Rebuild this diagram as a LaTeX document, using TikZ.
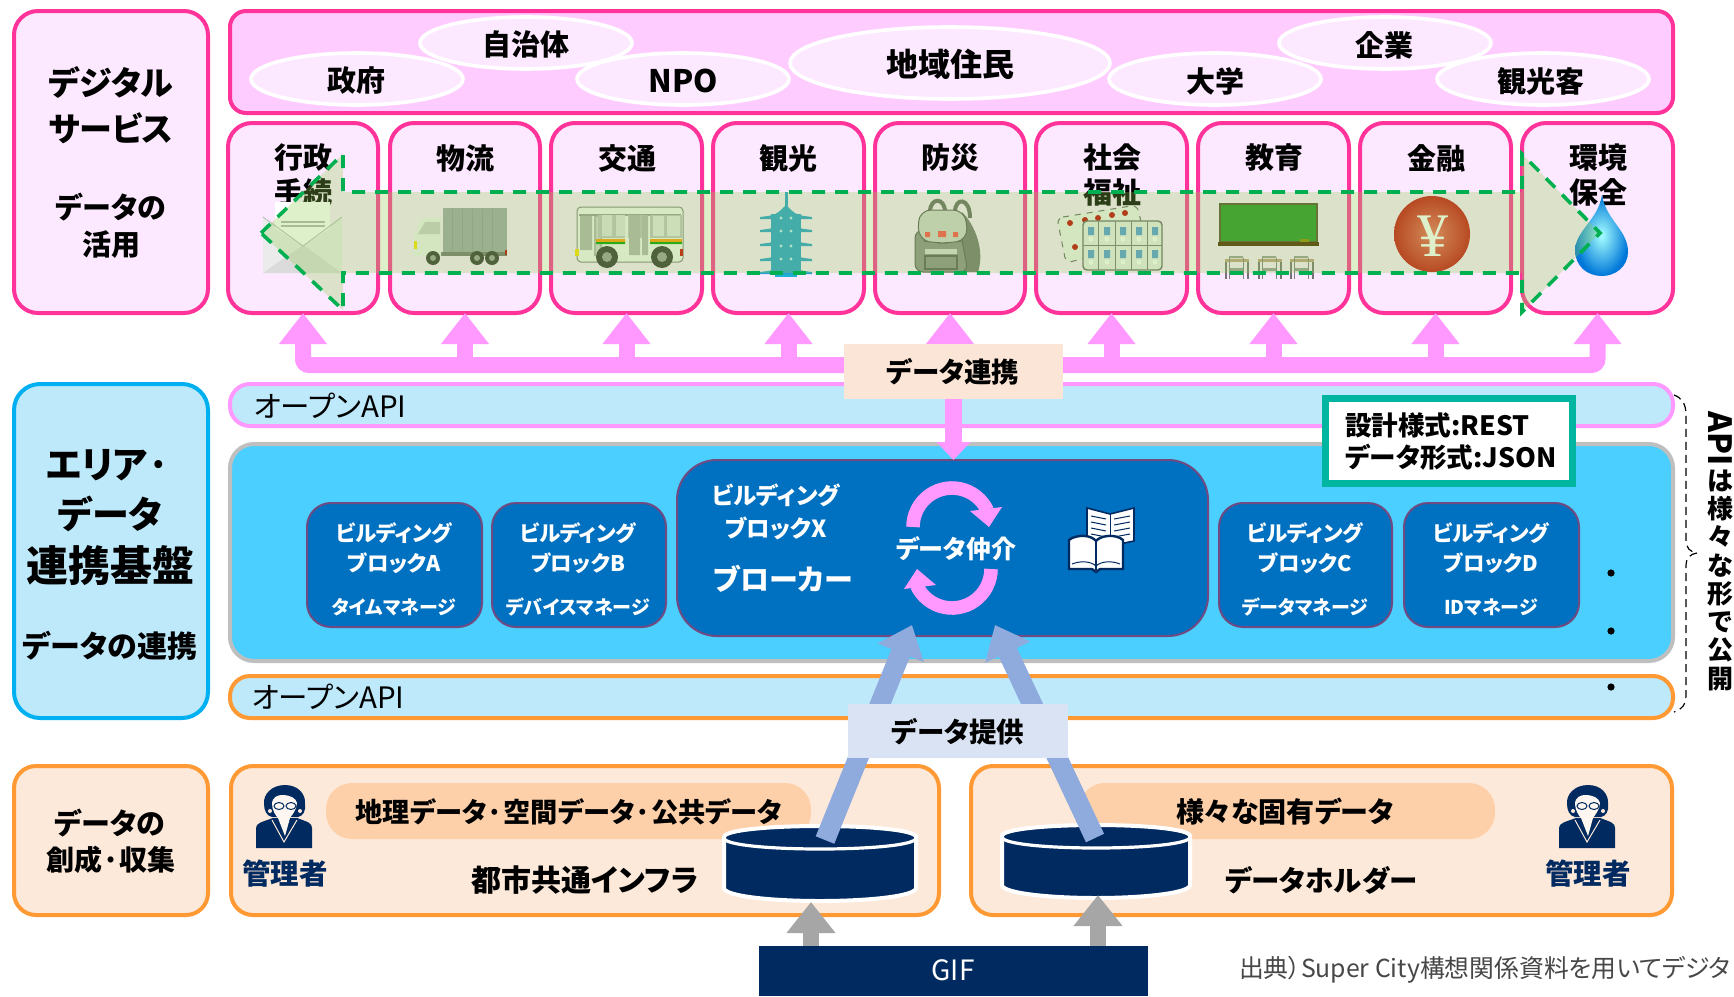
\documentclass[tikz,border=0pt]{standalone}
\usepackage{fontspec}
\setmainfont{Noto Sans CJK JP}[RawFeature=+palt]
\newfontfamily\yenfont{Liberation Serif}
\usetikzlibrary{arrows.meta,shapes.geometric}
\definecolor{pinkline}{HTML}{FF3399}
\definecolor{pinklight}{HTML}{FDE9FF}
\definecolor{pinkband}{HTML}{FFCCFF}
\definecolor{pinkarrow}{HTML}{FF99FF}
\definecolor{skybar}{HTML}{BDE9FA}
\definecolor{skyline}{HTML}{00B0F0}
\definecolor{skymain}{HTML}{4BCFFF}
\definecolor{blockfill}{HTML}{0070C0}
\definecolor{blockline}{HTML}{704A80}
\definecolor{orangeline}{HTML}{FF9933}
\definecolor{orangefill}{HTML}{FDE9D9}
\definecolor{orangepill}{HTML}{FDD0AA}
\definecolor{navy}{HTML}{002A60}
\definecolor{bluearrow}{HTML}{8FAADC}
\definecolor{bluebox}{HTML}{DAE3F3}
\definecolor{peach}{HTML}{FBE5D6}
\definecolor{teal}{HTML}{00B6A0}
\definecolor{graya}{HTML}{A6A6A6}
\definecolor{overlayg}{HTML}{92D050}
\definecolor{dashg}{HTML}{00B050}
\definecolor{pagodac}{HTML}{249ED0}
\definecolor{truckc}{HTML}{A0A3AB}
\tikzset{
  x=0.5pt,y=-0.5pt,
  base/.style={inner sep=0pt,outer sep=0pt,rectangle},
  digibox/.style={base,draw=pinkline,line width=2pt,fill=pinklight,rounded corners=12pt},
  bandbox/.style={base,draw=pinkline,line width=2pt,fill=pinkband,rounded corners=8pt},
  sector/.style={base,draw=pinkline,line width=2pt,fill=pinklight,rounded corners=12pt},
  people/.style={ellipse,draw=white,line width=1.8pt,fill=pinklight,inner sep=0pt,outer sep=0pt},
  apitop/.style={base,draw=pinkarrow,line width=2pt,fill=skybar,rounded corners=10pt},
  apibot/.style={base,draw=orangeline,line width=2pt,fill=skybar,rounded corners=10pt},
  areabox/.style={base,draw=skyline,line width=2pt,fill=skybar,rounded corners=13pt},
  mainbox/.style={base,draw=black!25,line width=2pt,fill=skymain,rounded corners=12pt},
  blockbox/.style={base,draw=blockline,line width=1pt,fill=blockfill,rounded corners=12pt},
  orangebox/.style={base,draw=orangeline,line width=2pt,fill=orangefill,rounded corners=11pt},
  pillbox/.style={base,fill=orangepill,rounded corners=12pt},
  txt/.style={inner sep=0pt,outer sep=0pt,align=center},
  pinkarr/.style={draw=pinkarrow,line width=8pt,-{Triangle[length=15.5pt,width=23pt]}},
  bluearr/.style={draw=bluearrow,line width=10pt,-{Triangle[length=15pt,width=24pt]}},
  grayarr/.style={draw=graya,line width=8pt,-{Triangle[length=15.5pt,width=23.5pt]}},
}
\newcommand\bx[6]{\node[#6,minimum width={(#4-#2-2)*0.5pt},minimum height={(#5-#3-2)*0.5pt}] (#1) at ({(#2+#4)/2},{(#3+#5)/2}) {};}
\newcommand\fb[6]{\node[#6,minimum width={(#4-#2)*0.5pt},minimum height={(#5-#3)*0.5pt}] (#1) at ({(#2+#4)/2},{(#3+#5)/2}) {};}
\newcommand\tx[6][1.15]{\node[txt,text=#5,font={\fontsize{\fpeval{#4/2}}{\fpeval{#4/2*#1}}\selectfont\bfseries}] (#2) at (#3) {#6};}
\newcommand\person[1]{%
  \begin{scope}[shift={(#1)}]
    \fill[navy] (-28,62) -- (-28,42) .. controls (-28,37) and (-22,36) .. (-11,32) -- (13,32) .. controls (24,36) and (28,37) .. (28,42) -- (28,62) -- cycle;
    \fill[navy] (1,-1) .. controls (-12,-1) and (-21,8) .. (-20,18) .. controls (-20,25) and (-17,30) .. (-12,31) -- (14,31) .. controls (19,30) and (22,25) .. (21,18) .. controls (22,8) and (14,-1) .. (1,-1) -- cycle;
    \fill[orangefill!40!white] (-12,18) .. controls (-12,11) and (-6,9) .. (-2,9) .. controls (6,9) and (12,12) .. (13,17) .. controls (13,24) and (7,30) .. (6,32) -- (1,50) -- (-6,32) .. controls (-8,30) and (-12,24) .. (-12,18) -- cycle;
    \draw[navy,line width=.5pt] (-5,20) ellipse [x radius=5,y radius=3.5] (7,20) ellipse [x radius=5,y radius=3.5];
    \fill[orangefill] (-14,25) circle [radius=2] (16,25) circle [radius=2];
    \draw[orangefill,line width=.5pt] (-12,34) -- (0,56) -- (13,34);
  \end{scope}}
\begin{document}
\begin{tikzpicture}
\useasboundingbox (0,0) rectangle (1734,996);
\fill[white] (0,0) rectangle (1734,996);
% top layer
\bx{digi}{13}{10}{209}{314}{digibox}
\tx[1.38]{digiT}{111,105}{33}{black}{デジタル\\サービス}
\tx[1.27]{digiS}{111,226}{29}{black}{データの\\活用}
\bx{band}{229}{10}{1674}{114}{bandbox}
\node[people,minimum width=106pt,minimum height=26pt] (e1) at (357,79) {};
\node[people,minimum width=106pt,minimum height=26pt] (e2) at (526,43) {};
\node[people,minimum width=106pt,minimum height=26pt] (e3) at (683,79) {};
\node[people,minimum width=160pt,minimum height=36pt] (e4) at (950,63) {};
\node[people,minimum width=106pt,minimum height=26pt] (e5) at (1215,79) {};
\node[people,minimum width=106pt,minimum height=26pt] (e6) at (1385,43) {};
\node[people,minimum width=106pt,minimum height=26pt] (e7) at (1543,79) {};
\tx{t1}{356,81}{29}{black}{政府}
\tx{t2}{526,44}{29}{black}{自治体}
\tx{t3}{683,81}{31}{black}{NPO}
\tx{t4}{950,64}{32}{black}{地域住民}
\tx{t5}{1215,81}{29}{black}{大学}
\tx{t6}{1384,45}{29}{black}{企業}
\tx{t7}{1541,81}{29}{black}{観光客}
% sectors
\bx{s1}{227}{122}{379}{314}{sector}
\bx{s2}{389}{122}{541}{314}{sector}
\bx{s3}{550}{122}{703}{314}{sector}
\bx{s4}{712}{122}{865}{314}{sector}
\bx{s5}{874}{122}{1026}{314}{sector}
\bx{s6}{1035}{122}{1188}{314}{sector}
\bx{s7}{1197}{122}{1350}{314}{sector}
\bx{s8}{1359}{122}{1512}{314}{sector}
\bx{s9}{1521}{122}{1674}{314}{sector}
\tx[1.2]{l1}{303,175}{29}{black}{行政\\手続}
\tx{l2}{465,158}{29}{black}{物流}
\tx{l3}{627,158}{29}{black}{交通}
\tx{l4}{788,158}{29}{black}{観光}
\tx{l5}{950,158}{29}{black}{防災}
\tx[1.2]{l6}{1112,175}{29}{black}{社会\\福祉}
\tx{l7}{1274,158}{29}{black}{教育}
\tx{l8}{1436,158}{29}{black}{金融}
\tx[1.2]{l9}{1598,175}{29}{black}{環境\\保全}
% icons
% envelope
\fill[white] (275,202) rectangle (330,240);
\fill[black!8] (263,217) -- (303,243) -- (342,217) -- (342,273) -- (263,273) -- cycle;
\fill[black!14] (263,273) -- (303,245) -- (342,273) -- cycle;
\fill[white] (275,202) -- (330,202) -- (330,228) -- (303,246) -- (275,228) -- cycle;
\draw[black!30,line width=.7pt] (281,222) -- (325,222) (281,226) -- (325,226);
\draw[black!25,line width=.5pt] (263,217) -- (303,246) -- (342,217);
% truck
\fill[black!55] (414,252) rectangle (507,256);
\fill[truckc] (443,208) rectangle (507,252);
\foreach \q in {452,462,472,482,492} \draw[black!42,line width=.5pt] (\q,209) -- (\q,251);
\fill[black!6] (421,218) -- (441,218) -- (441,256) -- (414,256) -- (414,238) -- cycle;
\fill[black!20] (425,222) -- (440,222) -- (440,234) -- (418,234) -- cycle;
\fill[yellow!80!orange] (414,241) rectangle (417,249);
\fill[red!70!black] (505,250) rectangle (507,255);
\foreach \q in {433,477,492} {\fill[black!80] (\q,258) circle [radius=7]; \fill[black!40] (\q,258) circle [radius=3];}
% bus
\fill[black!4,draw=black!50,line width=.5pt,rounded corners=2pt] (577,207) rectangle (683,262);
\fill[black!40] (579,214) rectangle (681,216);
\fill[black!30] (580,216) rectangle (592,250) (594,216) rectangle (602,256);
\fill[black!18] (596,217) rectangle (600,255);
\fill[black!25] (598,215) rectangle (625,238) (628,215) rectangle (645,238);
\fill[black!12] (602,215) rectangle (612,236) (616,215) rectangle (625,236);
\fill[black!30] (629,215) rectangle (640,255) (642,215) rectangle (648,255);
\fill[black!25] (650,215) rectangle (682,238);
\fill[black!10] (653,216) rectangle (664,236) (667,216) rectangle (680,236);
\fill[orange!80!yellow] (596,239) rectangle (625,242) (650,239) rectangle (682,242);
\fill[green!60!black] (596,242) rectangle (625,244) (650,242) rectangle (682,244);
\foreach \q in {607,662} {\fill[black!80] (\q,257) circle [radius=11]; \fill[black!40] (\q,257) circle [radius=5];}
\fill[yellow!80!orange] (575,249) rectangle (579,256);
\fill[red!80!black] (680,249) rectangle (683,256);
% pagoda
\fill[pagodac!80!cyan] (775,268) rectangle (797,277);
\fill[pagodac] (784.5,192) rectangle (787.5,215);
\foreach \q in {215,228,242,257,270} {\fill[pagodac] (760,\q+2) .. controls (776,\q+0) .. (786,\q-10) .. controls (796,\q+0) .. (812,\q+2) -- (812,\q+4) -- (760,\q+4) -- cycle;}
\fill[pagodac] (771,214) rectangle (801,272);
\foreach \q in {218,231,246,259} {\fill[white!75!cyan] (781,\q) circle [radius=1.7] (791,\q) circle [radius=1.7];}
% backpack
\draw[black!60,line width=2pt] (930,212) .. controls (930,197) and (945,197) .. (945,212) (955,212) .. controls (955,197) and (970,197) .. (970,218);
\fill[black!55] (962,212) .. controls (975,225) and (985,250) .. (978,272) -- (960,272) -- cycle;
\fill[black!45!white,draw=black!65,line width=.5pt,rounded corners=4pt] (915,272) -- (915,230) -- (960,230) -- (968,272) -- cycle;
\fill[black!18,draw=black!65,line width=.5pt,rounded corners=6pt] (919,210) -- (965,210) -- (968,240) -- (950,243) -- (935,243) -- (918,240) -- cycle;
\fill[black!15] (925,249) rectangle (957,254);
\draw[black!65,line width=.7pt] (925,256) rectangle (957,269);
\fill[red!70] (925,232) rectangle (930,237) (938,231) rectangle (946,237) (953,232) rectangle (958,237);
% cards
\fill[black!6,draw=black!60,line width=.5pt,dashed,rounded corners=3pt] (1057,218) -- (1137,205) -- (1146,242) -- (1066,263) -- cycle;
\fill[red!75!black] (1070,223) circle [radius=3] (1085,220) circle [radius=3] (1098,218) circle [radius=3] (1112,215) circle [radius=3] (1125,213) circle [radius=3] (1075,247) circle [radius=3];
\fill[black!8,draw=black!60,line width=.7pt,rounded corners=2pt] (1083,221) rectangle (1162,270);
\draw[black!55,line width=.4pt] (1083,245) -- (1162,245) (1098,221) -- (1098,270) (1115,221) -- (1115,270) (1131,221) -- (1131,270) (1147,221) -- (1147,270);
\foreach \q in {1091,1107,1123,1139,1155} {
  \fill[cyan!60!blue!70] (\q-3,227) rectangle (\q+3,235) (\q-3,250) rectangle (\q+3,258);
  \fill[white] (\q,239) circle [radius=2.5] (\q,262) circle [radius=2.5];
}
% blackboard
\fill[black!55!olive] (1219,203) rectangle (1318,243);
\fill[green!50!black!85] (1221,205) rectangle (1316,241);
\fill[black!70!orange] (1218,242) rectangle (1319,246);
\fill[olive] (1300,239) rectangle (1309,242);
\foreach \q in {1235,1268,1300} {
  \fill[orange!50!black!50] (\q-10,259) rectangle (\q+14,262);
  \draw[black!55,line width=.6pt] (\q-9,262) -- (\q-9,279) (\q+13,262) -- (\q+13,279);
  \fill[black!40] (\q-6,256) rectangle (\q+8,258) (\q-6,268) rectangle (\q+8,271);
  \draw[black!50,line width=.5pt] (\q-6,258) -- (\q-6,279) (\q+8,258) -- (\q+8,279);
}
% yen
\definecolor{yenin}{HTML}{F07060}
\definecolor{yenout}{HTML}{C81010}
\shade[inner color=yenin,outer color=yenout] (1432,234) circle [radius=38];
\node[txt,text=white,font={\fontsize{31}{31}\selectfont\yenfont}] (yen) at (1433,236) {¥};
% drop
\shade[inner color=cyan!35,outer color=cyan!55!blue!85!black] (1602,195) .. controls (1606,220) and (1628,230) .. (1628,252) .. controls (1628,266) and (1616,276) .. (1602,276) .. controls (1587,276) and (1575,266) .. (1575,250) .. controls (1576,230) and (1598,220) .. (1602,195) -- cycle;
% overlay arrow
\path[fill=overlayg,fill opacity=.3,draw=dashg,line width=1.8pt,dash pattern=on 6.5pt off 5pt]
  (261,233) -- (343,154) -- (343,192) -- (1522,192) -- (1522,154) -- (1600,233) -- (1522,312) -- (1522,273) -- (343,273) -- (343,310) -- cycle;

% area layer
\bx{area}{13}{383}{209}{719}{areabox}
\tx{areaT1}{108,465}{37}{black}{エリア·}
\tx{areaT2}{110,514}{37}{black}{データ}
\tx{areaT3}{110,566}{42}{black}{連携基盤}
\tx{areaS}{110,646}{30}{black}{データの連携}
\bx{apiT}{229}{383}{1674}{427}{apitop}
\bx{mainp}{229}{443}{1674}{662}{mainbox}
\bx{apiB}{229}{675}{1674}{719}{apibot}
\tx{apiTt}{330,406}{29.5}{black}{\mdseries オープンAPI}
\tx{apiBt}{328,697}{29.5}{black}{\mdseries オープンAPI}
% blocks
\fb{ba}{307}{503}{482}{627}{blockbox}
\fb{bb}{492}{503}{666}{627}{blockbox}
\fb{bx}{677}{460}{1208}{636}{blockbox,rounded corners=20pt}
\fb{bc}{1219}{503}{1392}{627}{blockbox}
\fb{bd}{1404}{503}{1579}{627}{blockbox}
\tx[1.38]{ta}{394,548}{21.5}{white}{ビルディング\\ブロックA}
\tx{tam}{394,607}{19}{white}{タイムマネージ}
\tx[1.38]{tb}{578,548}{21.5}{white}{ビルディング\\ブロックB}
\tx{tbm}{578,607}{19}{white}{デバイスマネージ}
\tx[1.38]{tc}{1305,548}{21.5}{white}{ビルディング\\ブロックC}
\tx{tcm}{1305,607}{19}{white}{データマネージ}
\tx[1.38]{td}{1491,548}{21.5}{white}{ビルディング\\ブロックD}
\tx{tdm}{1491,607}{19}{white}{IDマネージ}
\tx[1.4]{tx}{776,512}{23.5}{white}{ビルディング\\ブロックX}
\tx{tbr}{783,579}{29}{white}{ブローカー}
\tx{tmed}{956,549}{25}{white}{データ仲介}
% cycle arrows
\draw[pinkarrow,line width=6.8pt] plot[domain=180:25,samples=24] ({952+39*cos(\x)},{527-39*sin(\x)});
\fill[pinkarrow] (970,511) -- (1002,507) -- (989,527) -- cycle;
\draw[pinkarrow,line width=6.8pt] plot[domain=180:25,samples=24] ({952-39*cos(\x)},{569+39*sin(\x)});
\fill[pinkarrow] (936,585) -- (904,589) -- (917,569) -- cycle;
% book
\begin{scope}[navy,line width=.8pt]
\draw[fill=white] (1087,508) -- (1110,514) -- (1134,508) -- (1134,541) -- (1110,546) -- (1087,541) -- cycle;
\draw[line width=.5pt] (1110,514) -- (1110,546);
\foreach \q in {516,522,528,534} \draw[line width=.5pt] (1091,\q) -- (1106,\q+3) (1114,\q+3) -- (1130,\q);
\draw[fill=white,line width=1.2pt] (1069,540) -- (1072,538) .. controls (1082,534) and (1092,536) .. (1096,541) .. controls (1100,536) and (1112,534) .. (1120,538) -- (1123,540) -- (1123,569) -- (1100,569) -- (1096,572) -- (1092,569) -- (1069,569) -- cycle;
\draw[line width=.8pt] (1096,541) -- (1096,570);
\draw[line width=.5pt] (1072,564) .. controls (1082,560) and (1092,562) .. (1096,566) .. controls (1100,562) and (1110,560) .. (1120,564);
\end{scope}
% dots
\node[circle,fill=black,inner sep=0pt,minimum size=3.6pt] (d1) at (1611,573) {};
\node[circle,fill=black,inner sep=0pt,minimum size=3.6pt] (d2) at (1611,631) {};
\node[circle,fill=black,inner sep=0pt,minimum size=3.6pt] (d3) at (1611,687) {};
% design box
\fb{spec}{1325}{398}{1572}{483}{base,draw=teal,line width=3.5pt,fill=white}
\node[txt,align=left,anchor=west,font={\fontsize{13.3}{16}\selectfont\bfseries}] (spect) at (1345,441) {設計様式:REST\\データ形式:JSON};
% brace
\draw[black,line width=.6pt,dash pattern=on 4pt off 2.5pt] (1674,395) .. controls (1682,398) and (1686,404) .. (1686,415) -- (1686,540) .. controls (1686,548) and (1690,552) .. (1697,553) .. controls (1690,554) and (1686,558) .. (1686,566) -- (1686,695) .. controls (1686,704) and (1682,710) .. (1674,712);
\node[txt,font={\fontsize{13}{14.15}\selectfont\bfseries}] (vert) at (1720,551) {\rotatebox{-90}{\fontsize{16}{16}\selectfont API}\\[1pt]は\\様\\々\\な\\形\\で\\公\\開};

% data layer
\bx{coll}{13}{765}{209}{916}{orangebox}
\node[txt,font={\fontsize{14.5}{17}\selectfont\bfseries}] (collT1) at (110,823) {データの};
\node[txt,font={\fontsize{14}{17}\selectfont\bfseries}] (collT2) at (111,860) {創成·収集};
\bx{city}{230}{765}{940}{916}{orangebox}
\fb{pill1}{326}{783}{811}{839}{pillbox,rounded corners=13pt}
\tx{pill1t}{569,812}{27.2}{black}{地理データ·空間データ·公共データ}
\tx{cityt}{585,880}{30}{black}{都市共通インフラ}
\tx{adm1}{285,874}{28.5}{navy}{管理者}
\person{284,786}
\bx{hold}{970}{765}{1673}{916}{orangebox}
\fb{pill2}{1079}{783}{1495}{839}{pillbox,rounded corners=13pt}
\tx{pill2t}{1285,812}{28}{black}{様々な固有データ}
\tx{holdt}{1321,880}{28.5}{black}{データホルダー}
\tx{adm2}{1588,874}{28.5}{navy}{管理者}
\person{1587,786}
% cylinders
\path[fill=navy,draw=white,line width=2pt] (724,837) -- (724,888) .. controls (724,896) and (770,901) .. (820,901) .. controls (870,901) and (916,896) .. (916,888) -- (916,837) .. controls (916,830) and (870,826) .. (820,826) .. controls (770,826) and (724,830) .. (724,837) -- cycle;
\draw[white,line width=1.6pt] (724,838) .. controls (724,845) and (770,849) .. (820,849) .. controls (870,849) and (916,845) .. (916,838);
\path[fill=navy,draw=white,line width=2pt] (1002,836) -- (1002,885) .. controls (1002,893) and (1048,898) .. (1096,898) .. controls (1144,898) and (1190,893) .. (1190,885) -- (1190,836) .. controls (1190,829) and (1144,825) .. (1096,825) .. controls (1048,825) and (1002,829) .. (1002,836) -- cycle;
\draw[white,line width=1.6pt] (1002,837) .. controls (1002,844) and (1048,848) .. (1096,848) .. controls (1144,848) and (1190,844) .. (1190,837);
\coordinate (db1) at (825,840);
\coordinate (db2) at (1095,838);
\coordinate (h1) at (912,625);
\coordinate (h2) at (995,625);
\draw[bluearr] (db1) -- (h1);
\draw[bluearr] (db2) -- (h2);
% connectors
\fb{prov}{848}{704}{1068}{758}{base,fill=bluebox}
\tx{provt}{958,732}{27.5}{black}{データ提供}
\coordinate (busl) at (844,365);
\coordinate (busr) at (1063,365);
\draw[pinkarr,rounded corners=3pt] (busl) -| (s1.south);
\draw[pinkarr,rounded corners=3pt] (busr) -| (s9.south);
\foreach \n in {s2,s3,s4,s5,s6,s7,s8} \draw[pinkarr] (\n.south |- busl) -- (\n.south);
\fb{dc}{844}{344}{1063}{399}{base,fill=peach}
\tx{dct}{953,372}{27.5}{black}{データ連携}
\draw[pinkarr,line width=8.5pt,-{Triangle[length=9pt,width=16.5pt]}] (dc.south) -- (dc.south |- bx.north);
% GIF
\fb{gif}{759}{946}{1148}{996}{base,fill=navy}
\tx{gift}{953,970}{28}{white}{\mdseries GIF}
\coordinate (g1) at (811,902);
\coordinate (g2) at (1098,895);
\draw[grayarr] (gif.north -| g1) -- (g1);
\draw[grayarr] (gif.north -| g2) -- (g2);
\node[txt,anchor=west,text=black!72,font={\fontsize{12.4}{14}\selectfont}] (src) at (1239,970) {出典）Super City構想関係資料を用いてデジタ};
\end{tikzpicture}
\end{document}
